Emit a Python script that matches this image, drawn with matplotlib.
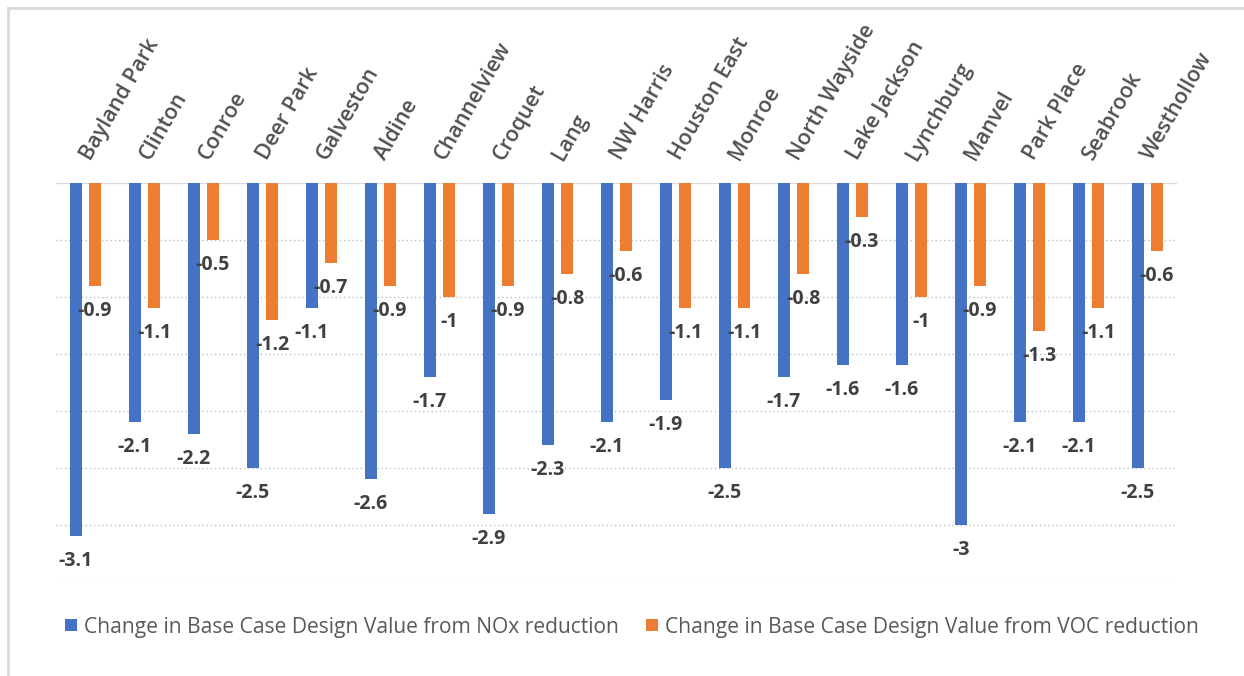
import numpy as np
import matplotlib.pyplot as plt
from matplotlib.lines import Line2D

plt.rcParams['font.family'] = ['Open Sans', 'DejaVu Sans']

sites = ["Bayland Park", "Clinton", "Conroe", "Deer Park", "Galveston", "Aldine",
         "Channelview", "Croquet", "Lang", "NW Harris", "Houston East", "Monroe",
         "North Wayside", "Lake Jackson", "Lynchburg", "Manvel", "Park Place",
         "Seabrook", "Westhollow"]
nox = [-3.1, -2.1, -2.2, -2.5, -1.1, -2.6, -1.7, -2.9, -2.3, -2.1, -1.9, -2.5,
       -1.7, -1.6, -1.6, -3.0, -2.1, -2.1, -2.5]
voc = [-0.9, -1.1, -0.5, -1.2, -0.7, -0.9, -1.0, -0.9, -0.8, -0.6, -1.1, -1.1,
       -0.8, -0.3, -1.0, -0.9, -1.3, -1.1, -0.6]
series_names = ["Change in Base Case Design Value from NOx reduction",
                "Change in Base Case Design Value from VOC reduction"]

BLUE = "#4472C4"
ORANGE = "#ED7D31"
TXT = "#595959"
LBL = "#404040"

fig = plt.figure(figsize=(12.44, 6.76), dpi=100)
ax = fig.add_axes([56 / 1244, 1 - 582 / 676, (1177 - 56) / 1244, (582 - 183) / 676])

x = np.arange(len(sites))
w = 0.205
off = 0.162
b1 = ax.bar(x - off, nox, w, color=BLUE, label=series_names[0], zorder=3)
b2 = ax.bar(x + off, voc, w, color=ORANGE, label=series_names[1], zorder=3)

for bars, vals in ((b1, nox), (b2, voc)):
    for rect, v in zip(bars, vals):
        ax.annotate(f"{v:g}", (rect.get_x() + rect.get_width() / 2, v),
                    xytext=(0, -18), textcoords="offset points",
                    ha="center", va="center", fontsize=14,
                    fontweight="bold", color=LBL, zorder=4)

ax.set_xlim(-0.5, len(sites) - 0.5)
ax.set_ylim(-3.5, 0)
ax.set_yticks(np.arange(-3.5, 0.01, 0.5))
ax.yaxis.grid(True, linestyle=(0, (1, 2)), color="#BFBFBF", linewidth=1)
ax.tick_params(axis="y", left=False, labelleft=False)
ax.axhline(0, color="#D9D9D9", linewidth=1.5, zorder=2)
for s in ax.spines.values():
    s.set_visible(False)

ax.xaxis.tick_top()
ax.set_xticks(x)
ax.set_xticklabels(sites, rotation=60, ha="left", va="center",
                   rotation_mode="anchor", fontsize=15.5, color="#505050",
                   fontweight="semibold")
ax.tick_params(axis="x", top=False, pad=14)

ax.legend(loc="center", bbox_to_anchor=(632 / 1244, 1 - 627 / 676),
          bbox_transform=fig.transFigure, ncol=2, frameon=False,
          fontsize=15.1, labelcolor=TXT, handlelength=0.55, handleheight=0.55,
          handletextpad=0.35, columnspacing=1.3)

# chart frame (top and left edges visible)
fig.add_artist(Line2D([8 / 1244, 8 / 1244], [0, 1 - 8 / 676],
                      transform=fig.transFigure, color="#D9D9D9", lw=2))
fig.add_artist(Line2D([8 / 1244, 1], [1 - 8 / 676, 1 - 8 / 676],
                      transform=fig.transFigure, color="#D9D9D9", lw=2))

fig.savefig("out.png", dpi=100)
